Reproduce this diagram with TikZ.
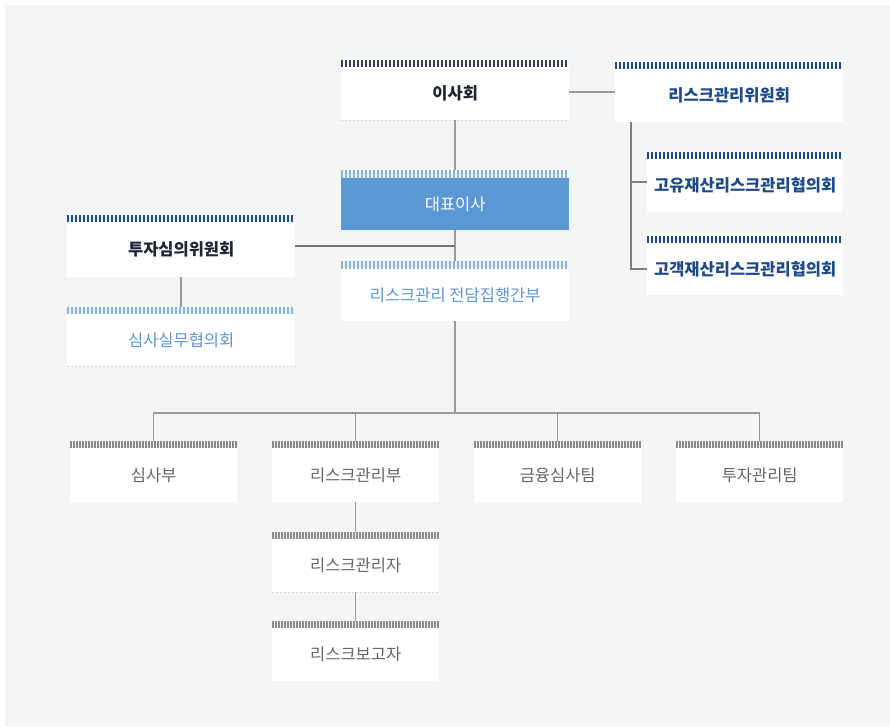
\documentclass[tikz,border=0pt]{standalone}
\usepackage{fontspec}
\newfontfamily\kr{Noto Sans CJK KR}
\definecolor{bgc}{HTML}{F4F5F5}
\definecolor{navy}{HTML}{1E4A8A}
\definecolor{darkst}{HTML}{3B4052}
\definecolor{lightb}{HTML}{5B97D4}
\definecolor{lightst}{HTML}{86B4E2}
\definecolor{grayst}{HTML}{8A8A8A}
\definecolor{graytxt}{HTML}{666666}
\definecolor{linec}{HTML}{9A9A9A}
\definecolor{inkc}{HTML}{1F2535}
\newcommand\kfont{\kr\fontsize{16.5pt}{19pt}\selectfont}
\newcommand\kbfont{\kr\bfseries\fontsize{16.5pt}{19pt}\selectfont}
\tikzset{
  box/.style={fill=white, draw=none, minimum width=228pt, minimum height=53pt,
    anchor=north west, inner sep=0pt, font=\kfont},
  bbox/.style={box, font=\kbfont},
  sbox/.style={box, minimum width=167pt, minimum height=54pt},
  conn/.style={draw=linec, line width=1.5pt},
  dotline/.style={draw=black!15, dash pattern=on 2pt off 2pt, line width=0.8pt},
}
% x1, x2, ytop, ybottom, colour, period, line width
\newcommand\stripebar[7]{%
  \pgfmathsetmacro\sxa{#1+#7/2}\pgfmathsetmacro\sxb{#1+#7/2+#6}\pgfmathsetmacro\sxe{#2-#7/2}%
  \foreach \sx in {\sxa,\sxb,...,\sxe} {\draw[draw=#5, line width=#7pt] (\sx,#3) -- (\sx,#4);}}
\begin{document}
\begin{tikzpicture}[x=1pt,y=-1pt]
\useasboundingbox (0,0) rectangle (890,726);
\fill[bgc] (5,5) rectangle (890,726);

% top level
\node[bbox, text=inkc] (isa) at (341,67) {이사회};
\stripebar{341}{569}{60}{67}{darkst}{4}{2}
\draw[dotline] (isa.south west) -- (isa.south east);

\node[bbox, text=navy] (rmc) at (615,69) {리스크관리위원회};
\stripebar{615}{843}{62}{69}{navy}{4}{2}

\node[bbox, minimum width=196pt, text=navy] (prop) at (647,159) {고유재산리스크관리협의회};
\stripebar{647}{843}{152}{159}{navy}{4}{2}
\node[bbox, minimum width=196pt, minimum height=52pt, text=navy] (cust) at (647,243) {고객재산리스크관리협의회};
\stripebar{647}{843}{236}{243}{navy}{4}{2}

\node[box, fill=lightb, minimum height=52pt, text=white] (ceo) at (341,178) {대표이사};
\stripebar{341}{569}{170}{178}{lightst}{4}{2}
\draw[draw=white!85!lightb, dash pattern=on 2pt off 2pt, line width=0.8pt] (ceo.south west) -- (ceo.south east);

\node[bbox, minimum height=55pt, text=inkc] (inv) at (67,222) {투자심의위원회};
\stripebar{67}{295}{215}{222}{navy}{4}{2}

\node[box, minimum height=52pt, text=lightb] (rev) at (67,314) {심사실무협의회};
\stripebar{67}{295}{307}{314}{lightst}{4}{2}
\draw[dotline] (rev.south west) -- (rev.south east);

\node[box, minimum height=52pt, text=lightb] (exec) at (341,269) {리스크관리 전담집행간부};
\stripebar{341}{569}{261}{269}{lightst}{4}{2}

% bottom row
\node[sbox, text=graytxt] (b1) at (70,448) {심사부};
\node[sbox, text=graytxt] (b2) at (272,448) {리스크관리부};
\node[sbox, text=graytxt] (b3) at (474,448) {금융심사팀};
\node[sbox, text=graytxt] (b4) at (676,448) {투자관리팀};
\foreach \bx in {70,272,474,676} {\pgfmathsetmacro\bxe{\bx+167}\stripebar{\bx}{\bxe}{441}{448}{grayst}{3}{1.5}}

\node[sbox, minimum height=53pt, text=graytxt] (rmgr) at (272,539) {리스크관리자};
\stripebar{272}{439}{532}{539}{grayst}{3}{1.5}
\draw[dotline] (rmgr.south west) -- (rmgr.south east);
\node[sbox, minimum height=53pt, text=graytxt] (rrep) at (272,628) {리스크보고자};
\stripebar{272}{439}{621}{628}{grayst}{3}{1.5}

% connectors
\draw[conn] ([yshift=1.5pt]isa.east) -- ([yshift=1.5pt]isa.east -| rmc.west);
\draw[conn] (isa.south) -- ([yshift=8pt]ceo.north);
\draw[conn] (ceo.south) -- ([yshift=8pt]exec.north);
\coordinate (invj) at ([yshift=3.5pt]inv.east -| ceo.south);
\draw[conn, draw=black!55] ([yshift=3.5pt]inv.east) -- (invj);
\draw[conn] (inv.south) -- ([yshift=7.5pt]rev.north);

\coordinate (rmcx) at ([xshift=16pt]rmc.south west);
\coordinate (pj) at ([yshift=3.5pt]prop.west);
\draw[conn, draw=black!50] (rmcx) -- (rmcx |- cust.west) -- (cust.west);
\draw[conn, draw=black!50] (rmcx |- pj) -- (pj);

\coordinate (bus) at (exec.south |- 0,413);
\draw[conn] (exec.south) -- (bus);
\draw[conn] ([yshift=7.5pt]b1.north) -- (b1.north |- bus) -- (b4.north |- bus) -- ([yshift=7.5pt]b4.north);
\draw[conn] ([yshift=7.5pt]b2.north) -- (b2.north |- bus);
\draw[conn] ([yshift=7.5pt]b3.north) -- (b3.north |- bus);
\draw[conn] (b2.south) -- ([yshift=7.5pt]rmgr.north);
\draw[conn] (rmgr.south) -- ([yshift=7.5pt]rrep.north);
\end{tikzpicture}
\end{document}
